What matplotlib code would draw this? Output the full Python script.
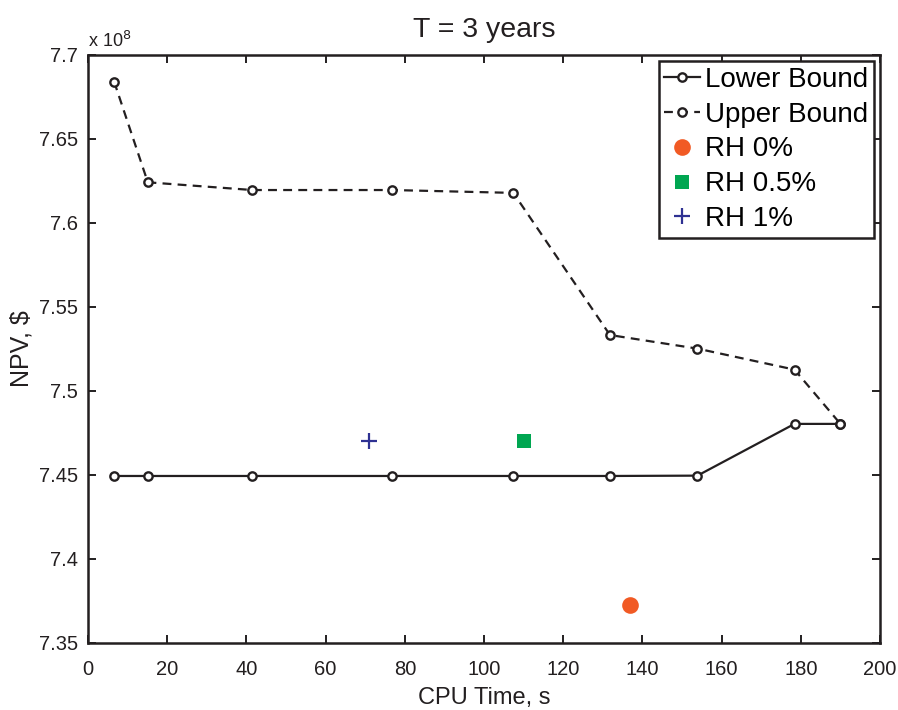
import matplotlib
matplotlib.use("Agg")
import matplotlib.pyplot as plt
from matplotlib.ticker import FixedLocator, FuncFormatter

plt.rcParams['font.family'] = ['Liberation Sans', 'DejaVu Sans']

# Data (NPV in units of 1e8 $)
cpu_time = [6.6, 15.1, 41.5, 76.8, 107.4, 131.8, 153.9, 178.4, 190.0]
upper_bound = [7.6841, 7.6242, 7.6196, 7.6196, 7.6179, 7.5333, 7.5252, 7.5127, 7.4804]
lower_bound = [7.4494, 7.4494, 7.4494, 7.4494, 7.4494, 7.4494, 7.4496, 7.4804, 7.4804]
rh0_x, rh0_y = [136.8], [7.3726]
rh05_x, rh05_y = [110.1], [7.4704]
rh1_x, rh1_y = [71.0], [7.4700]
xticks = [0, 20, 40, 60, 80, 100, 120, 140, 160, 180, 200]
yticks = [7.35, 7.4, 7.45, 7.5, 7.55, 7.6, 7.65, 7.7]

fig = plt.figure(figsize=(8.98, 7.10), dpi=100)
ax = fig.add_axes([0.098, 0.0944, 0.882, 0.8282])

ink = '#231f20'
mk = dict(marker='o', markersize=6, markerfacecolor='white', markeredgecolor=ink,
          markeredgewidth=1.7, color=ink, linewidth=1.6)
ax.plot(cpu_time, lower_bound, linestyle='-', label='Lower Bound', **mk)
ax.plot(cpu_time, upper_bound, linestyle=(0, (4.0, 2.8)), label='Upper Bound', **mk)
ax.plot(rh0_x, rh0_y, linestyle='none', marker='o', markersize=12, color='#f15a24',
        markeredgewidth=0, label='RH 0%')
ax.plot(rh05_x, rh05_y, linestyle='none', marker='s', markersize=10, color='#00a651',
        markeredgewidth=0, label='RH 0.5%')
ax.plot(rh1_x, rh1_y, linestyle='none', marker='+', markersize=11, color='#2e3192',
        markeredgewidth=1.6, label='RH 1%')

ax.set_xlim(0, 200)
ax.set_ylim(7.35, 7.7)
ax.xaxis.set_major_locator(FixedLocator(xticks))
ax.yaxis.set_major_locator(FixedLocator(yticks))
ax.yaxis.set_major_formatter(FuncFormatter(lambda v, p: f"{v:g}"))
ax.tick_params(direction='in', top=True, right=True, length=6, width=1.4,
               labelsize=14.5, colors=ink)
ax.tick_params(axis='x', pad=12)
ax.tick_params(axis='y', pad=7)
for s in ax.spines.values():
    s.set_linewidth(1.8)
    s.set_color(ink)

ax.text(0.0, 1.006, r'x 10$^8$', transform=ax.transAxes, fontsize=13,
        ha='left', va='bottom', color=ink)
ax.set_title('T = 3 years', fontsize=20.5, pad=13, color=ink)
ax.set_xlabel('CPU Time, s', fontsize=17, color=ink, labelpad=6)
ax.set_ylabel('NPV, $', fontsize=18, color=ink, labelpad=4)

leg = ax.legend(loc='upper right', fontsize=20, frameon=True, fancybox=False,
                borderpad=0.2, handlelength=1.3, handletextpad=0.18, labelspacing=0.32,
                borderaxespad=0.22)
leg.get_frame().set_edgecolor(ink)
leg.get_frame().set_linewidth(1.8)
leg.get_frame().set_alpha(1)

fig.savefig('out.png', dpi=100)
